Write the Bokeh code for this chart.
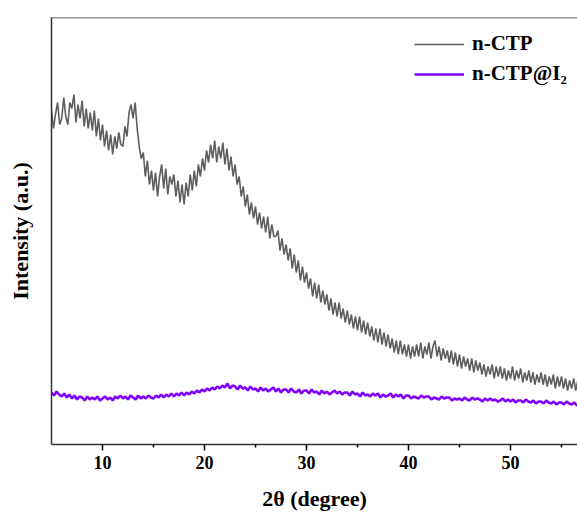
from bokeh.plotting import figure
from bokeh.models import Range1d, Span, FixedTicker, Legend, LegendItem
from bokeh.embed import file_html
from bokeh.resources import INLINE
import numpy as np

# 2theta start, step and intensity (arbitrary units)
ctp_start, ctp_step = 5.0, 0.2
ctp_intensity = [
    334, 316, 331, 342, 320,
    326, 347, 328, 320, 342,
    336, 350, 322, 340, 326,
    344, 318, 336, 316, 332,
    314, 334, 308, 326, 304,
    320, 298, 314, 294, 310,
    290, 308, 296, 312, 300,
    298, 318, 308, 332, 340,
    326, 342, 316, 298, 286,
    292, 268, 284, 260, 274,
    254, 272, 248, 268, 280,
    256, 276, 250, 268, 260,
    270, 248, 264, 242, 260,
    240, 262, 248, 270, 254,
    274, 258, 280, 268, 286,
    274, 294, 282, 300, 286,
    304, 282, 298, 286, 302,
    280, 296, 274, 288, 268,
    280, 260, 268, 248, 258,
    238, 250, 230, 242, 226,
    238, 220, 232, 216, 228,
    212, 228, 206, 220, 208,
    208, 214, 194, 206, 190,
    200, 184, 196, 176, 190,
    172, 184, 164, 178, 162,
    172, 156, 166, 148, 162,
    146, 160, 142, 154, 140,
    150, 134, 146, 130, 142,
    128, 142, 126, 136, 122,
    134, 120, 130, 116, 128,
    114, 128, 112, 124, 110,
    122, 108, 118, 104, 116,
    102, 116, 100, 112, 98,
    110, 96, 106, 92, 104,
    90, 104, 90, 100, 88,
    100, 86, 98, 88, 100,
    88, 102, 86, 98, 90,
    102, 86, 98, 104, 88,
    98, 84, 96, 86, 94,
    82, 94, 80, 92, 78,
    90, 76, 88, 78, 86,
    74, 86, 72, 84, 74,
    82, 70, 80, 68, 78,
    70, 80, 66, 78, 68,
    78, 66, 76, 64, 74,
    66, 78, 64, 74, 66,
    76, 62, 72, 64, 74,
    62, 72, 60, 70, 62,
    72, 60, 70, 58, 68,
    60, 70, 56, 68, 58,
    68, 56, 66, 54, 64,
    56, 66, 54, 64, 56,
    60,
]

ctpi_start, ctpi_step = 5.0, 0.25
ctpi_intensity = [
    52, 49, 53, 50,
    48, 51, 47, 50,
    46, 49, 45, 48,
    47, 44, 48, 45,
    47, 45, 48, 44,
    46, 48, 45, 47,
    44, 48, 46, 49,
    46, 48, 45, 49,
    47, 45, 49, 46,
    48, 46, 49, 47,
    46, 49, 47, 50,
    47, 50, 48, 51,
    48, 51, 49, 52,
    49, 52, 50, 53,
    51, 54, 52, 55,
    53, 56, 54, 57,
    55, 58, 56, 59,
    57, 61, 56, 59,
    58, 55, 59, 56,
    57, 54, 58, 55,
    56, 53, 57, 54,
    56, 53, 55, 57,
    53, 56, 52, 55,
    55, 52, 56, 53,
    52, 55, 51, 54,
    54, 51, 55, 52,
    53, 50, 54, 51,
    53, 50, 52, 54,
    51, 53, 50, 52,
    52, 49, 53, 50,
    51, 48, 52, 49,
    50, 48, 51, 49,
    51, 47, 50, 48,
    49, 51, 47, 50,
    48, 50, 46, 49,
    49, 46, 48, 47,
    46, 49, 47, 48,
    48, 45, 47, 46,
    45, 48, 46, 47,
    47, 44, 46, 45,
    46, 44, 47, 45,
    44, 47, 45, 46,
    45, 43, 46, 44,
    46, 44, 45, 43,
    44, 46, 43, 45,
    43, 45, 42, 44,
    44, 42, 45, 43,
    42, 44, 41, 43,
    43, 41, 44, 42,
    41, 43, 40, 42,
    42, 40, 43, 41,
    40, 42, 39, 41,
    41,
]

x_ticks = [10, 20, 30, 40, 50]
x_minor_ticks = [15, 25, 35, 45, 55]
series_names = ["n-CTP", "n-CTP@I\u2082"]
series_colors = ["#5e5e5e", "#7f00ff"]

ctp_x = ctp_start + ctp_step * np.arange(len(ctp_intensity))
ctpi_x = ctpi_start + ctpi_step * np.arange(len(ctpi_intensity))

FONT = "Liberation Serif"

p = figure(width=577, height=516, output_backend="svg", toolbar_location=None,
           x_range=Range1d(5, 56.57), y_range=Range1d(0, 427),
           min_border_left=51, min_border_right=0, min_border_top=17,
           min_border_bottom=72)
p.outline_line_color = None
p.grid.visible = False
p.background_fill_color = "white"
p.border_fill_color = "white"

r1 = p.line(ctp_x, ctp_intensity, line_color=series_colors[0], line_width=1.6)
r2 = p.line(ctpi_x, ctpi_intensity, line_color=series_colors[1], line_width=2.6)

# top frame line
p.add_layout(Span(location=427, dimension="width", line_color="#333333", line_width=1.5))

xa = p.xaxis[0]
xa.ticker = FixedTicker(ticks=x_ticks, minor_ticks=x_minor_ticks)
xa.axis_line_color = "#333333"
xa.axis_line_width = 1.5
xa.major_tick_in = 0
xa.major_tick_out = 6
xa.minor_tick_in = 0
xa.minor_tick_out = 3
xa.major_tick_line_width = 1.5
xa.minor_tick_line_width = 1.5
xa.major_label_text_font = FONT
xa.major_label_text_font_style = "bold"
xa.major_label_text_font_size = "18px"
xa.major_label_text_color = "black"
xa.major_label_standoff = 5
xa.axis_label = "2\u03b8 (degree)"
xa.axis_label_text_font = FONT
xa.axis_label_text_font_style = "bold"
xa.axis_label_text_font_size = "22px"
xa.axis_label_text_color = "black"
xa.axis_label_standoff = 14

ya = p.yaxis[0]
ya.ticker = FixedTicker(ticks=[])
ya.axis_line_color = "#333333"
ya.axis_line_width = 1.5
ya.major_tick_out = 0
ya.minor_tick_out = 0
ya.axis_label = "Intensity (a.u.)"
ya.axis_label_text_font = FONT
ya.axis_label_text_font_style = "bold"
ya.axis_label_text_font_size = "22px"
ya.axis_label_text_color = "black"
ya.axis_label_standoff = 19

legend = Legend(items=[LegendItem(label=series_names[0], renderers=[r1]),
                       LegendItem(label=series_names[1], renderers=[r2])],
                location=(363, 358))
legend.border_line_color = None
legend.background_fill_alpha = 0
legend.padding = 0
legend.margin = 0
legend.spacing = 5
legend.glyph_width = 50
legend.glyph_height = 24
legend.label_standoff = 8
legend.label_height = 24
legend.label_text_font = FONT
legend.label_text_font_style = "bold"
legend.label_text_font_size = "21px"
legend.label_text_color = "black"
p.add_layout(legend)

open("out.html", "w").write(file_html(p, INLINE))
